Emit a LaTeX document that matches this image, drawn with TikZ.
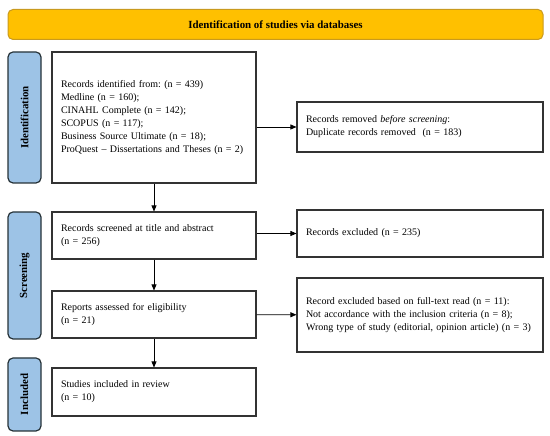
\documentclass[tikz,border=0pt]{standalone}
\usepackage{fontspec}
\setmainfont{Liberation Serif}
\usepackage{tikz}
\usetikzlibrary{arrows.meta}
\definecolor{headyellow}{HTML}{FFC000}
\definecolor{headedge}{HTML}{C99A1E}
\definecolor{sideblue}{HTML}{9DC3E6}
\definecolor{sideedge}{HTML}{263238}
\definecolor{boxedge}{HTML}{333333}
\frenchspacing

\begin{document}
\begin{tikzpicture}[x=1pt,y=1pt,
    header/.style ={rounded corners=5pt, draw=headedge, fill=headyellow, line width=1pt,
        minimum width=535pt, minimum height=30pt, font=\fontsize{10.9}{12}\selectfont\bfseries},
    phase/.style ={rounded corners=5pt, draw=sideedge, fill=sideblue, line width=1.2pt,
        rotate=90, minimum height=33pt, inner sep=0pt, font=\fontsize{10.9}{12}\selectfont\bfseries},
    record/.style ={draw=boxedge, line width=1.1pt, align=left, text width=186pt,
        inner xsep=9pt, minimum width=204pt, font=\fontsize{10}{13}\selectfont},
    removed/.style ={draw=boxedge, line width=1.1pt, align=left, text width=228pt,
        inner xsep=9pt, minimum width=246pt, font=\fontsize{10}{13}\selectfont},
    flow/.style ={line width=0.7pt, -{Triangle[length=6pt,width=5pt]}}]
   \useasboundingbox (0,0) rectangle (550,436);
   % header
   \node[header] (head) at (275.5,411.5) {Identification of studies via databases};
   % phases
   \node[phase, minimum width=131pt] (idph)  at (24.5,318.5) {Identification};
   \node[phase, minimum width=127pt] (scph)  at (24.5,160.5) {Screening};
   \node[phase, minimum width=73pt]  (inph)  at (24.5,41.5)  {Included};
   % main column
   \node[record, minimum height=131pt] (ident) at (154,318.5)
      {Records identified from: (n = 439)\\ Medline (n = 160);\\ CINAHL Complete (n = 142);\\
       SCOPUS (n = 117);\\ Business Source Ultimate (n = 18);\\ ProQuest -- Dissertations and Theses (n = 2)};
   \node[record, minimum height=47pt] (screen) at (154,200.5)
      {Records screened at title and abstract\\ (n = 256)};
   \node[record, minimum height=47pt] (elig) at (154,121.5)
      {Reports assessed for eligibility\\ (n = 21)};
   \node[record, minimum height=48pt] (incl) at (154,44)
      {Studies included in review\\ (n = 10)};
   % right column
   \node[removed, minimum height=50pt] (dup) at (420,309)
      {Records removed \textit{before screening}:\\ Duplicate records removed~ (n = 183)};
   \node[removed, minimum height=47pt] (excl) at (420,202.5)
      {Records excluded (n = 235)};
   \node[removed, minimum height=74pt] (full) at (420,121)
      {Record excluded based on full-text read (n = 11):\\ Not accordance with the inclusion criteria (n = 8);\\
       Wrong type of study (editorial, opinion article) (n = 3)};
   % arrows
   \draw[flow] (ident) to (screen);
   \draw[flow] (screen) to (elig);
   \draw[flow] (elig) to (incl);
   \draw[flow] (ident.east |- dup) to (dup);
   \draw[flow] (screen.east |- excl) to (excl);
   \draw[flow] (elig) to (full);
 \end{tikzpicture}
\end{document}
